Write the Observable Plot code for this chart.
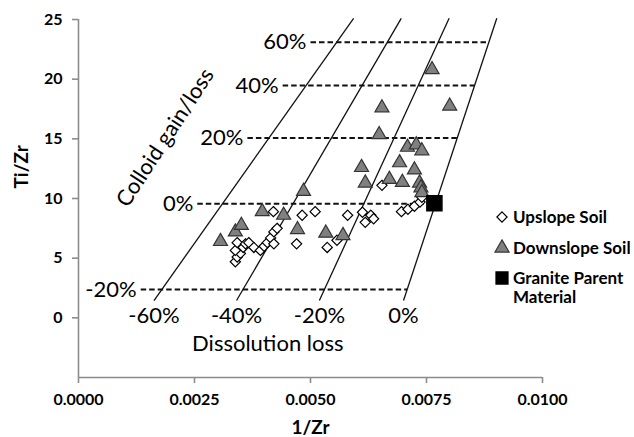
<!DOCTYPE html>
<html><head><meta charset="utf-8">
<script src="https://cdn.jsdelivr.net/npm/d3@7"></script>
<script src="https://cdn.jsdelivr.net/npm/@observablehq/plot@0.6"></script>
<style>
body{margin:0;background:#fff;font-family:Lato,sans-serif}
#wrap{position:relative;width:634px;height:437px}
.leg{position:absolute;font:bold 17px Lato,sans-serif;color:#000;line-height:19px;white-space:nowrap}
.leg svg{position:absolute;overflow:visible}
</style></head><body><div id="wrap"></div>
<script>
// Upslope soil (1/Zr, Ti/Zr)
const upX = [0.00338,0.00342,0.00349,0.00338,0.00342,0.00355,0.00360,0.00367,0.00378,0.00392,0.00400,0.00407,0.00414,0.00421,0.00428,0.00421,0.00420,0.00482,0.00510,0.00470,0.00536,0.00557,0.00580,0.00612,0.00630,0.00618,0.00636,0.00654,0.00696,0.00710,0.00724,0.00736,0.00740];
const upY = [4.7,5.1,5.4,5.65,6.3,5.9,6.2,6.3,5.9,5.65,6.0,6.3,6.7,7.2,7.5,6.2,8.9,8.6,8.9,6.2,5.9,6.5,8.6,8.85,8.6,8.0,8.3,11.1,8.9,9.1,9.35,9.7,10.1];
// Downslope soil
const downX = [0.00306,0.00338,0.00351,0.00396,0.00442,0.00472,0.00485,0.00533,0.00570,0.00610,0.00618,0.00648,0.00654,0.00670,0.00692,0.00698,0.00709,0.00728,0.00740,0.00724,0.00735,0.00738,0.00740,0.00762,0.00800];
const downY = [6.4,7.2,7.75,8.9,8.6,7.4,10.6,7.1,6.9,12.6,11.3,15.35,17.6,11.6,13.0,11.35,14.3,14.5,14.0,12.4,11.3,10.9,10.5,20.8,17.75];
// Granite parent material
const parentX = [0.00767];
const parentY = [9.6];
// axis ticks
const xTicks = [0, 0.0025, 0.005, 0.0075, 0.01];
const yTicks = [0, 5, 10, 15, 20, 25];
// colloid gain/loss reference lines
const gainLabels = ["-20%", "0%", "20%", "40%", "60%"];
const gainTi = [2.37, 9.55, 15.07, 19.46, 23.1];
const gainStartX = [0.00134, 0.00256, 0.00364, 0.00440, 0.00500];
const gainEndX = [0.00708, 0.00769, 0.00816, 0.00854, 0.00884];
// dissolution loss reference lines
const dissLabels = ["-60%", "-40%", "-20%", "0%"];
const dissBottomX = [0.001627, 0.003406, 0.005191, 0.007005];
const dissTopX = [0.005929, 0.006956, 0.007988, 0.009015];
const dissBottomY = [1.45, 1.45, 1.45, 1.45];
const dissTopY = [25.1, 25.1, 25.1, 25.1];
// titles
const annoText = ["Colloid gain/loss", "Dissolution loss"];
const annoX = [0.00187, 0.00408];
const annoY = [15.1, -2.2];
const annoRotate = [-57, 0];

const up = upX.map((x, i) => ({x, y: upY[i]}));
const down = downX.map((x, i) => ({x, y: downY[i]}));
const parent = parentX.map((x, i) => ({x, y: parentY[i]}));
const gain = gainLabels.map((l, i) => ({l, y: gainTi[i], x1: gainStartX[i], x2: gainEndX[i]}));
const diss = dissLabels.map((l, i) => ({l, x1: dissBottomX[i], y1: dissBottomY[i], x2: dissTopX[i], y2: dissTopY[i]}));
const anno = annoText.map((t, i) => ({t, x: annoX[i], y: annoY[i], r: annoRotate[i]}));

const font = "Lato, sans-serif";
const chart = Plot.plot({
  width: 634, height: 437,
  marginLeft: 78, marginRight: 92, marginTop: 19, marginBottom: 60,
  style: {fontFamily: font, background: "#fff", overflow: "visible"},
  x: {domain: [0, 0.01]},
  y: {domain: [-5, 25]},
  marks: [
    Plot.ruleX([0], {stroke: "#8c8c8c", strokeWidth: 1.6}),
    Plot.ruleY([-5], {stroke: "#8c8c8c", strokeWidth: 1.6}),
    Plot.axisX({ticks: xTicks, tickFormat: d3.format(".4f"), tickSize: 6, tickPadding: 10, stroke: "#8c8c8c", strokeWidth: 1.6, fill: "#000", fontSize: 16, fontWeight: "bold", label: null}),
    Plot.axisY({ticks: yTicks, tickFormat: d3.format("d"), tickSize: 6, tickPadding: 10, stroke: "#8c8c8c", strokeWidth: 1.6, fill: "#000", fontSize: 16, fontWeight: "bold", label: null}),
    Plot.text(["1/Zr"], {frameAnchor: "bottom", dy: 56, fontSize: 19, fontWeight: "bold", fill: "#000"}),
    Plot.text(["Ti/Zr"], {frameAnchor: "left", rotate: -90, dx: -57, dy: -10, fontSize: 19, fontWeight: "bold", fill: "#000"}),
    Plot.link(diss, {x1: "x1", y1: "y1", x2: "x2", y2: "y2", stroke: "#111", strokeWidth: 1.3}),
    Plot.link(gain, {x1: "x1", x2: "x2", y1: "y", y2: "y", stroke: "#111", strokeWidth: 2, strokeDasharray: "5.5,3"}),
    Plot.text(gain, {x: "x1", y: "y", text: "l", textAnchor: "end", dx: -4, fontSize: 22, fill: "#000"}),
    Plot.text(diss, {x: "x1", y: "y1", text: "l", dy: 15, fontSize: 22, fill: "#000"}),
    Plot.text(anno, {x: "x", y: "y", text: "t", rotate: "r", fontSize: 22, fill: "#000"}),
    Plot.dot(up, {x: "x", y: "y", symbol: "diamond2", r: 4.6, fill: "#fff", stroke: "#000", strokeWidth: 1.2}),
    Plot.dot(down, {x: "x", y: "y", symbol: "triangle", r: 5.2, fill: "#808080", stroke: "#333", strokeWidth: 1.2}),
    Plot.dot(parent, {x: "x", y: "y", symbol: "square", r: 8.5, fill: "#000", stroke: "#000"})
  ]
});
const wrap = document.getElementById("wrap");
wrap.appendChild(chart);

// legend
const legendItems = [
  {label: "Upslope Soil", sym: d3.symbolDiamond2, size: 4.6*4.6*Math.PI, fill: "#fff", stroke: "#000", top: 207},
  {label: "Downslope Soil", sym: d3.symbolTriangle, size: 5.2*5.2*Math.PI, fill: "#808080", stroke: "#333", top: 238},
  {label: "Granite Parent<br>Material", sym: d3.symbolSquare, size: 6.8*6.8*Math.PI, fill: "#000", stroke: "#000", top: 268}
];
for (const it of legendItems) {
  const d = document.createElement("div");
  d.className = "leg";
  d.style.left = "513px";
  d.style.top = it.top + "px";
  d.innerHTML = it.label;
  const s = document.createElementNS("http://www.w3.org/2000/svg", "svg");
  s.setAttribute("width", 1); s.setAttribute("height", 1);
  s.style.left = "-11px"; s.style.top = "10px";
  const p = document.createElementNS("http://www.w3.org/2000/svg", "path");
  p.setAttribute("d", d3.symbol(it.sym, it.size)());
  p.setAttribute("fill", it.fill); p.setAttribute("stroke", it.stroke); p.setAttribute("stroke-width", 1.2);
  s.appendChild(p);
  d.appendChild(s);
  wrap.appendChild(d);
}
</script>
</body></html>
